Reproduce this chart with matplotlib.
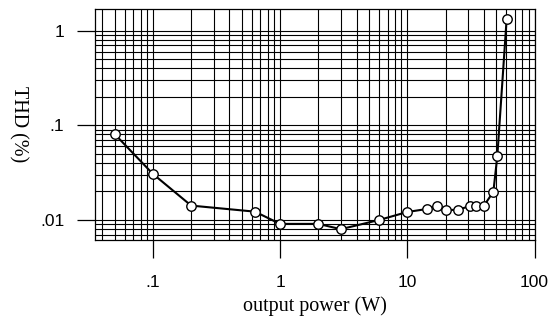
import matplotlib
matplotlib.use("Agg")
import matplotlib.pyplot as plt
from matplotlib.ticker import LogLocator, FixedLocator, FixedFormatter, NullFormatter

power_w = [0.05, 0.1, 0.2, 0.635, 1.0, 2.0, 3.0, 6.0, 10.0, 14.2, 17.1, 20.1,
           25.1, 31.0, 34.4, 40.0, 47.5, 51.0, 60.4]
thd_pct = [0.081, 0.0307, 0.0142, 0.01225, 0.0091, 0.0091, 0.0080, 0.0100, 0.01215,
           0.01306, 0.01416, 0.01276, 0.0128, 0.01406, 0.0141, 0.0141, 0.0199, 0.047, 1.33]

x_ticks = [0.1, 1, 10, 100]
x_tick_labels = [".1", "1", "10", "100"]
y_ticks = [0.01, 0.1, 1]
y_tick_labels = [".01", ".1", "1"]

fig = plt.figure(figsize=(5.51, 3.23), dpi=100)
ax = fig.add_axes([95/551, 1 - 240/323, (534.5 - 95)/551, (240 - 9)/323])
ax.set_xscale("log")
ax.set_yscale("log")
ax.set_xlim(0.0351, 100)
ax.set_ylim(0.00615, 1.69)

ax.plot(power_w, thd_pct, color="black", lw=1.5, marker="o", markersize=6.8,
        markerfacecolor="white", markeredgecolor="black", markeredgewidth=1.0, zorder=5,
        clip_on=False)

ax.xaxis.set_major_locator(FixedLocator(x_ticks))
ax.xaxis.set_major_formatter(FixedFormatter(x_tick_labels))
ax.yaxis.set_major_locator(FixedLocator(y_ticks))
ax.yaxis.set_major_formatter(FixedFormatter(y_tick_labels))
ax.xaxis.set_minor_locator(LogLocator(base=10, subs=range(2, 10), numticks=20))
ax.yaxis.set_minor_locator(LogLocator(base=10, subs=range(2, 10), numticks=20))
ax.xaxis.set_minor_formatter(NullFormatter())
ax.yaxis.set_minor_formatter(NullFormatter())

ax.grid(True, which="both", color="black", lw=0.8)
ax.tick_params(which="major", direction="out", length=13, width=0.9, color="black")
ax.tick_params(axis="x", which="major", pad=12)
ax.tick_params(axis="y", which="major", pad=9)
ax.tick_params(which="minor", length=0)
for lab in ax.get_xticklabels() + ax.get_yticklabels():
    lab.set_fontfamily("Liberation Sans")
    lab.set_fontsize(12.5)
for s in ax.spines.values():
    s.set_linewidth(0.9)

ax.set_xlabel("output power (W)", family="Liberation Serif", fontsize=14.5, labelpad=5)
ax.set_ylabel("THD (%)", family="Liberation Serif", fontsize=14.5, rotation=270,
              va="center", ha="center")
ax.yaxis.set_label_coords(-0.174, 0.5)

fig.savefig("out.png", dpi=100)
